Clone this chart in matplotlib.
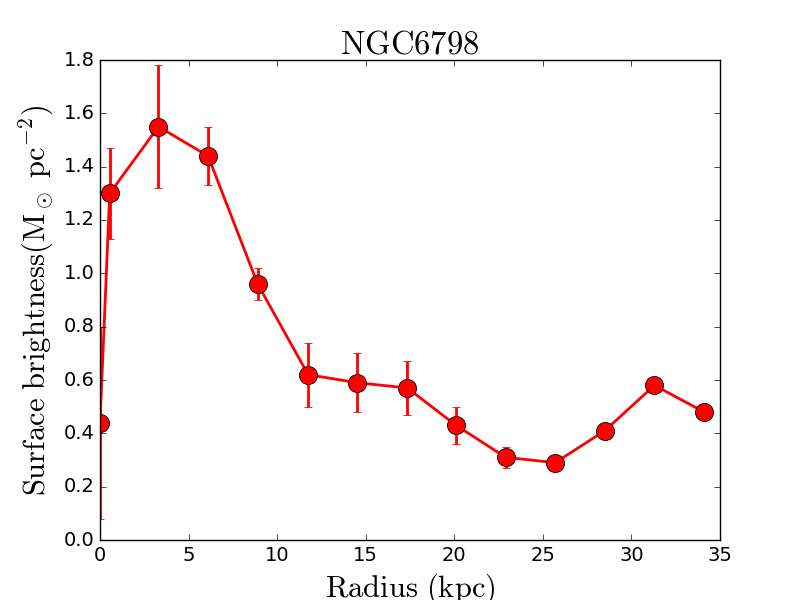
import numpy as np
import matplotlib
matplotlib.use('Agg')
import matplotlib.pyplot as plt

# %% Dados

radius = [0.0, 0.55, 3.3, 6.1, 8.9, 11.75, 14.5, 17.35, 20.1, 22.9, 25.7, 28.5, 31.3, 34.1]
sb = [0.44, 1.30, 1.55, 1.44, 0.96, 0.62, 0.59, 0.57, 0.43, 0.31, 0.29, 0.41, 0.58, 0.48]
sb_err = [0.36, 0.17, 0.23, 0.11, 0.06, 0.12, 0.11, 0.10, 0.07, 0.04, 0.0, 0.0, 0.0, 0.0]

# %% Plot

plt.style.use('classic')
plt.rcParams['mathtext.fontset'] = 'cm'

fig = plt.figure(figsize=(8, 6), dpi=100, facecolor='white')
ax = fig.add_subplot(111)
ax.errorbar(radius, sb, yerr=sb_err, fmt='-o', color='red', ecolor='red',
            lw=2, elinewidth=2, capsize=3, capthick=1.5,
            ms=13, mfc='red', mec='black', mew=0.6)
ax.set_xlim(0, 35)
ax.set_ylim(0, 1.8)
ax.set_xticks(np.arange(0, 36, 5))
ax.set_yticks(np.arange(0, 1.81, 0.2))
ax.tick_params(labelsize=14)
ax.set_title(r'$\mathrm{NGC6798}$', fontsize=23.5)
ax.set_xlabel(r'$\mathrm{Radius\ (kpc)}$', fontsize=22)
ax.set_ylabel(r'$\mathrm{Surface\ brightness(M_\odot\ pc^{-2})}$', fontsize=22)

fig.savefig('out.png', dpi=100, facecolor='white')
